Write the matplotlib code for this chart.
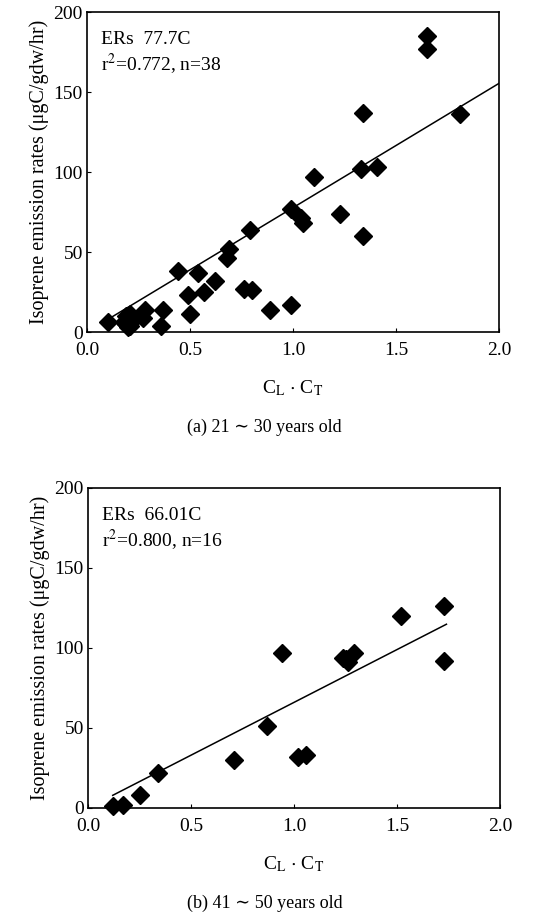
import numpy as np
import matplotlib
matplotlib.use('Agg')
import matplotlib.pyplot as plt

plt.rcParams['font.family'] = ['Liberation Serif', 'DejaVu Serif']
plt.rcParams['mathtext.fontset'] = 'stix'

# (a) 21~30 years old
x_a = [0.10, 0.19, 0.21, 0.20, 0.19, 0.21, 0.22, 0.18, 0.20,
       0.27, 0.28, 0.37, 0.36, 0.44, 0.49, 0.50, 0.54, 0.57, 0.62,
       0.68, 0.69, 0.76, 0.80, 0.79, 0.89, 0.99, 0.99, 1.04, 1.05,
       1.10, 1.23, 1.33, 1.34, 1.34, 1.41, 1.65, 1.65, 1.81]
y_a = [6, 10, 11, 8, 5, 4, 7, 6, 3,
       9, 14, 14, 4, 38, 23, 11, 37, 25, 32,
       46, 52, 27, 26, 64, 14, 77, 17, 71, 68,
       97, 74, 102, 137, 60, 103, 185, 177, 136]
slope_a = 77.7
fit_range_a = (0.10, 2.0)
text_a = 'ERs  77.7C\nr$^2$=0.772, n=38'
caption_a = '(a) 21 ∼ 30 years old'

# (b) 41~50 years old
x_b = [0.12, 0.17, 0.25, 0.34, 0.71, 0.87, 0.94, 1.02, 1.06,
       1.24, 1.26, 1.29, 1.25, 1.52, 1.73, 1.73]
y_b = [1, 2, 8, 22, 30, 51, 97, 32, 33,
       94, 91, 97, 93, 120, 126, 92]
slope_b = 66.01
fit_range_b = (0.12, 1.74)
text_b = 'ERs  66.01C\nr$^2$=0.800, n=16'
caption_b = '(b) 41 ∼ 50 years old'

xticks = [0.0, 0.5, 1.0, 1.5, 2.0]
yticks = [0, 50, 100, 150, 200]

W, H = 533, 916
fig = plt.figure(figsize=(W / 100, H / 100), dpi=100)


def panel(left, top, xs, ys, slope, fit_range, txt, caption):
    ax = fig.add_axes([left / W, 1 - (top + 320) / H, 412 / W, 320 / H])
    ax.plot(xs, ys, 'D', color='black', markersize=9, clip_on=False, zorder=3)
    fx = np.array(fit_range)
    ax.plot(fx, slope * fx, color='black', lw=1.1)
    ax.set_xlim(0, 2.0)
    ax.set_ylim(0, 200)
    ax.set_xticks(xticks)
    ax.set_xticklabels([f'{t:.1f}' for t in xticks])
    ax.set_yticks(yticks)
    ax.tick_params(direction='in', length=3, labelsize=14)
    ax.tick_params(axis='x', pad=7)
    ax.tick_params(axis='y', pad=3)
    for s in ax.spines.values():
        s.set_linewidth(1.2)
    ax.set_ylabel('Isoprene emission rates (μgC/gdw/hr)', fontsize=14.5, labelpad=3)
    ax.text(0.5, -0.175, r'C$_\mathrm{L}$ $\cdot$ C$_\mathrm{T}$', transform=ax.transAxes,
            fontsize=14, ha='center', va='center')
    ax.text(0.035, 0.94, txt, transform=ax.transAxes, fontsize=14,
            va='top', ha='left', linespacing=1.15)
    ax.text(0.43, -0.298, caption, transform=ax.transAxes, fontsize=13,
            ha='center', va='center')
    return ax


panel(87, 12, x_a, y_a, slope_a, fit_range_a, text_a, caption_a)
panel(88, 488, x_b, y_b, slope_b, fit_range_b, text_b, caption_b)

fig.savefig('out.png', dpi=100)
